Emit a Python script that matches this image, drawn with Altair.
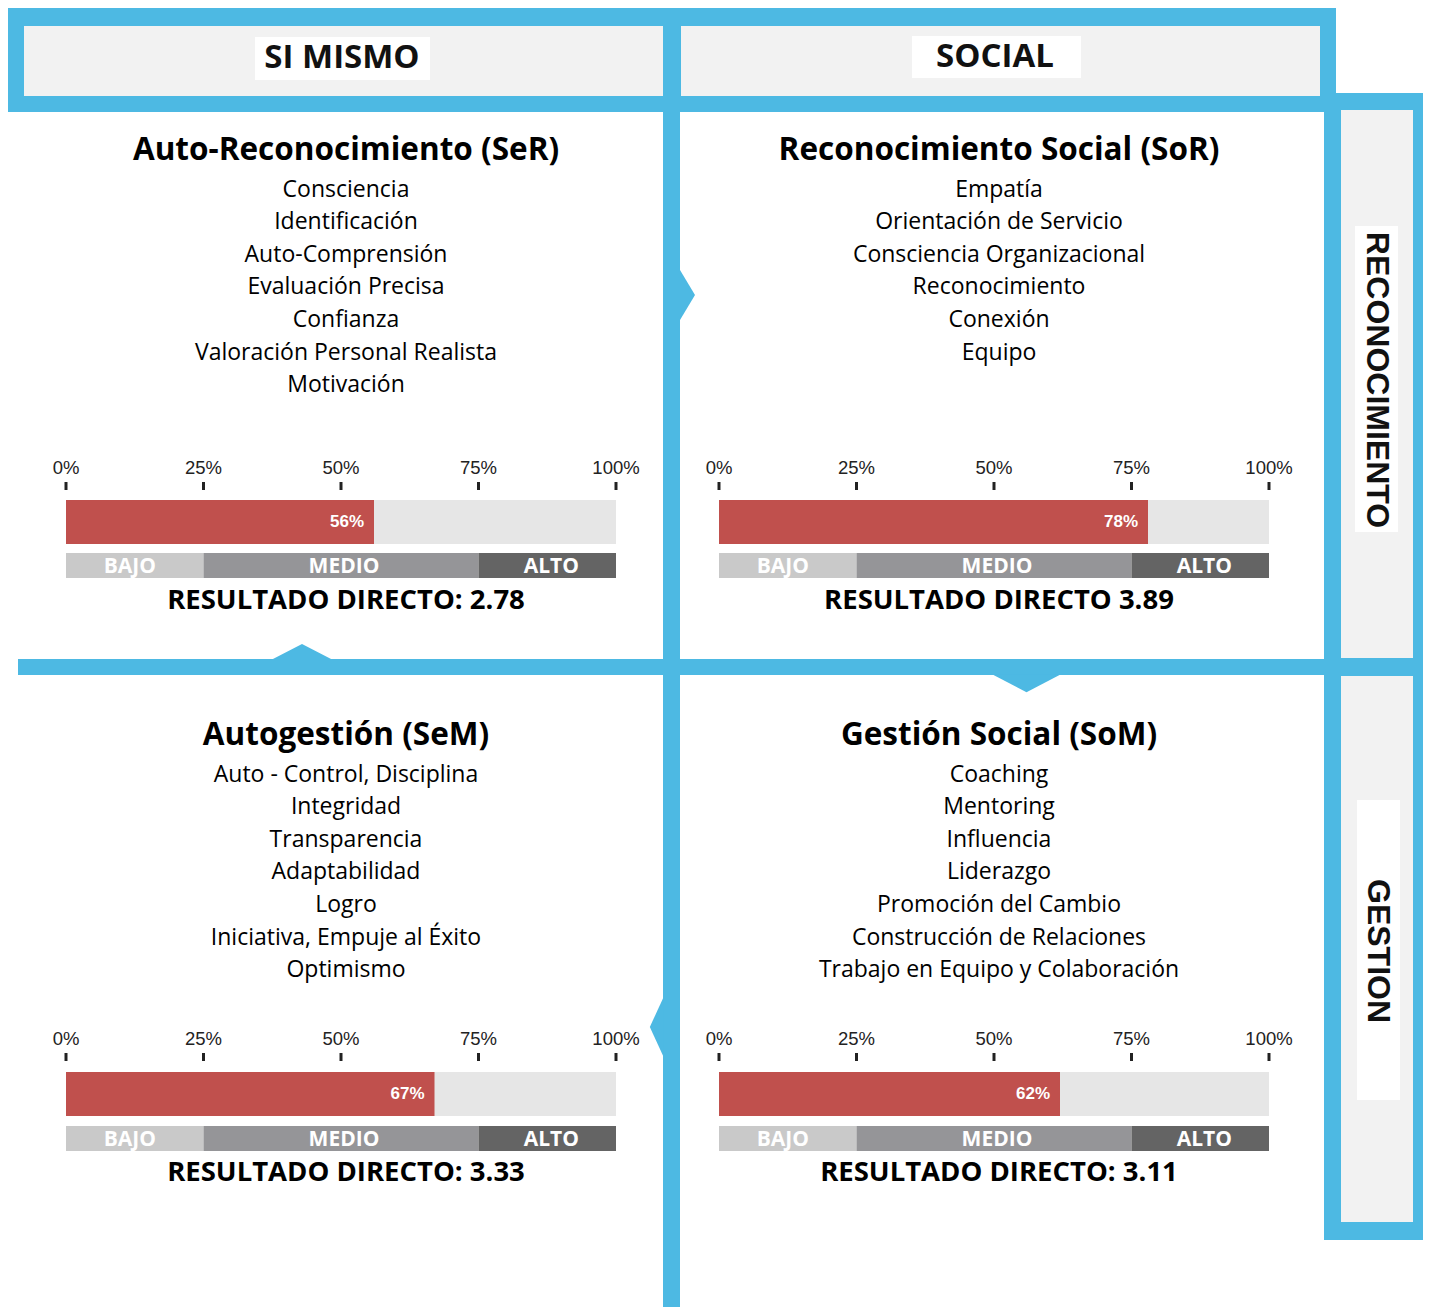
import altair as alt
import pandas as pd

# ---------------- data ----------------
COLUMN_HEADERS = ["SI MISMO", "SOCIAL"]
ROW_HEADERS = ["RECONOCIMIENTO", "GESTION"]
TITLES = [
    "Auto-Reconocimiento (SeR)",
    "Reconocimiento Social (SoR)",
    "Autogestión (SeM)",
    "Gestión Social (SoM)",
]
ITEMS = [
    ["Consciencia", "Identificación", "Auto-Comprensión", "Evaluación Precisa",
     "Confianza", "Valoración Personal Realista", "Motivación"],
    ["Empatía", "Orientación de Servicio", "Consciencia Organizacional",
     "Reconocimiento", "Conexión", "Equipo"],
    ["Auto - Control, Disciplina", "Integridad", "Transparencia", "Adaptabilidad",
     "Logro", "Iniciativa, Empuje al Éxito", "Optimismo"],
    ["Coaching", "Mentoring", "Influencia", "Liderazgo", "Promoción del Cambio",
     "Construcción de Relaciones", "Trabajo en Equipo y Colaboración"],
]
PERCENTS = [56, 78, 67, 62]
RESULTS = [
    "RESULTADO DIRECTO: 2.78",
    "RESULTADO DIRECTO 3.89",
    "RESULTADO DIRECTO: 3.33",
    "RESULTADO DIRECTO: 3.11",
]
TICKS = [0, 25, 50, 75, 100]
LEVELS = ["BAJO", "MEDIO", "ALTO"]
LEVEL_FROM = [0, 25, 75]
LEVEL_TO = [25, 75, 100]

# ---------------- layout / style ----------------
W, H = 1415, 1299
OX, OY = 8, 8
BLUE = "#4db9e3"
GREY = "#f2f2f2"
RED = "#c0504d"
TRACK = "#e6e6e6"
LEVEL_COLORS = ["#c9c9c9", "#959598", "#646464"]
LEVEL_DX = [-5, 3, 4]
SANS = "Open Sans"
ARIAL = "Liberation Sans"

PANEL_CX = [346, 999, 346, 999]
TITLE_Y = [151, 151, 736, 736]
ITEM_Y0 = [189.5, 189.5, 774.5, 774.5]
ITEM_STEP = 32.6
BAR_X0 = [66, 719, 66, 719]
BAR_W = 550
TICK_LABEL_Y = [468, 468, 1039, 1039]
TICK_TOP = [482, 482, 1053, 1053]
TICK_LEN = 8
BAR_Y = [500, 500, 1072, 1072]
BAR_H = 44
BAND_Y = [553, 553, 1126, 1126]
BAND_H = 25
RESULT_Y = [601, 601, 1173, 1173]

XS = alt.Scale(domain=[OX, OX + W], nice=False, zero=False)
YS = alt.Scale(domain=[OY, OY + H], reverse=True, nice=False, zero=False)


def lx(f):
    return alt.X(f, type="quantitative", scale=XS, axis=None)


def ly(f):
    return alt.Y(f, type="quantitative", scale=YS, axis=None)


def dy(v):
    return alt.Y(datum=v, scale=YS, axis=None)


# frame rectangles (drawn in order)
frame = pd.DataFrame(
    [
        (7, 1336, 8, 112, BLUE),
        (24, 663, 26, 96, GREY),
        (681, 1320, 26, 96, GREY),
        (255, 430, 37, 80, "#ffffff"),
        (912, 1081, 36, 78, "#ffffff"),
        (1324, 1431, 93, 1240, BLUE),
        (1341, 1413, 110, 658, GREY),
        (1341, 1413, 676, 1222, GREY),
        (1355, 1398, 226, 532, "#ffffff"),
        (1357, 1400, 800, 1100, "#ffffff"),
        (663, 680, 8, 1315, BLUE),
        (18, 1420, 659, 675, BLUE),
    ],
    columns=["x", "x2", "y", "y2", "c"],
)
frame["o"] = range(len(frame))
frame_layer = alt.Chart(frame).mark_rect().encode(
    x=lx("x"), x2="x2", y=ly("y"), y2="y2",
    color=alt.Color("c:N", scale=None), order=alt.Order("o:Q"),
)

# notches (triangles) on the blue lines: (x, y, size, path)
tri_specs = [
    (302, 652, 62 ** 2, "M-1,0.26L0,-0.26L1,0.26Z"),
    (1026.5, 683.5, 67 ** 2, "M-1,-0.26L0,0.26L1,-0.26Z"),
    (687.5, 295, 50 ** 2, "M-0.3,-1L0.3,0L-0.3,1Z"),
    (656.5, 1027, 58 ** 2, "M0.23,-1L-0.23,0L0.23,1Z"),
]
tri_layers = []
for tx, ty, ts, tp in tri_specs:
    tri_layers.append(
        alt.Chart(pd.DataFrame({"x": [tx], "y": [ty]}))
        .mark_point(shape=tp, size=ts, filled=True, color=BLUE, opacity=1, strokeWidth=0)
        .encode(x=lx("x"), y=ly("y"))
    )

# header texts
col_df = pd.DataFrame({"x": [342, 995], "y": [58, 57], "t": COLUMN_HEADERS})
col_layer = alt.Chart(col_df).mark_text(
    font=SANS, fontWeight="bold", fontSize=33, color="#111", baseline="middle", align="center"
).encode(x=lx("x"), y=ly("y"), text="t:N")

row_df = pd.DataFrame({"x": [1377, 1378], "y": [380, 951], "t": ROW_HEADERS})
row_layer = alt.Chart(row_df).mark_text(
    font=ARIAL, fontWeight="bold", fontSize=32, color="#111", baseline="middle",
    align="center", angle=90,
).encode(x=lx("x"), y=ly("y"), text="t:N")

title_df = pd.DataFrame({"x": PANEL_CX, "y": TITLE_Y, "t": TITLES})
title_layer = alt.Chart(title_df).mark_text(
    font=SANS, fontWeight="bold", fontSize=31.5, color="#000", baseline="middle", align="center"
).encode(x=lx("x"), y=ly("y"), text="t:N")

item_rows = []
for p, items in enumerate(ITEMS):
    for i, it in enumerate(items):
        item_rows.append({"x": PANEL_CX[p], "y": ITEM_Y0[p] + i * ITEM_STEP, "t": it})
item_layer = alt.Chart(pd.DataFrame(item_rows)).mark_text(
    font=SANS, fontSize=23, color="#000", baseline="middle", align="center"
).encode(x=lx("x"), y=ly("y"), text="t:N")

res_df = pd.DataFrame({"x": PANEL_CX, "y": RESULT_Y, "t": RESULTS})
res_layer = alt.Chart(res_df).mark_text(
    font=SANS, fontWeight="bold", fontSize=27.5, color="#000", baseline="middle", align="center"
).encode(x=lx("x"), y=ly("y"), text="t:N")


def panel(p):
    x0 = BAR_X0[p] - OX
    xs = alt.Scale(domain=[0, 100], range=[x0, x0 + BAR_W], nice=False, zero=False)

    def px(f):
        return alt.X(f, type="quantitative", scale=xs, axis=None)

    ticks = pd.DataFrame({"t": TICKS})
    tick_marks = alt.Chart(ticks).mark_rule(color="#222", strokeWidth=3).encode(
        x=px("t"), y=dy(TICK_TOP[p]), y2=alt.Y2(datum=TICK_TOP[p] + TICK_LEN),
    )
    tick_labels = alt.Chart(ticks).transform_calculate(lbl="datum.t + '%'").mark_text(
        font=ARIAL, fontSize=18.5, color="#222", align="center", baseline="middle",
    ).encode(x=px("t"), y=dy(TICK_LABEL_Y[p]), text="lbl:N")

    val = pd.DataFrame({"zero": [0], "full": [100], "v": [PERCENTS[p]]})
    by0, by1 = BAR_Y[p], BAR_Y[p] + BAR_H
    track = alt.Chart(val).mark_rect(color=TRACK).encode(
        x=px("zero"), x2="full:Q", y=dy(by0), y2=alt.Y2(datum=by1),
    )
    bar = alt.Chart(val).mark_rect(color=RED).encode(
        x=px("zero"), x2="v:Q", y=dy(by0), y2=alt.Y2(datum=by1),
    )
    lab = alt.Chart(val).transform_calculate(lbl="datum.v + '%'").mark_text(
        font=ARIAL, fontWeight="bold", fontSize=17, color="white",
        align="right", baseline="middle", dx=-10,
    ).encode(x=px("v"), y=dy((by0 + by1) / 2), text="lbl:N")

    lv = pd.DataFrame({"name": LEVELS, "a": LEVEL_FROM, "b": LEVEL_TO, "c": LEVEL_COLORS,
                       "d": LEVEL_DX})
    b0, b1 = BAND_Y[p], BAND_Y[p] + BAND_H
    bands = alt.Chart(lv).mark_rect().encode(
        x=px("a"), x2="b:Q", y=dy(b0), y2=alt.Y2(datum=b1),
        color=alt.Color("c:N", scale=None),
    )
    band_labs = []
    for k in range(len(LEVELS)):
        band_labs.append(
            alt.Chart(lv.iloc[[k]]).transform_calculate(m="(datum.a + datum.b) / 2").mark_text(
                font=SANS, fontWeight="bold", fontSize=21, color="white",
                align="center", baseline="middle", dx=LEVEL_DX[k],
            ).encode(x=px("m"), y=dy((b0 + b1) / 2 + 1), text="name:N")
        )
    return alt.layer(tick_marks, tick_labels, track, bar, lab, bands, *band_labs)


layers = [frame_layer] + tri_layers + [col_layer, row_layer, title_layer, item_layer, res_layer]
layers += [panel(p) for p in range(4)]

chart = (
    alt.layer(*layers)
    .resolve_scale(x="independent")
    .properties(width=W, height=H, padding=0, autosize=alt.AutoSizeParams(type="none"),
                background="white")
    .configure_view(stroke=None)
)

chart.save("out.html", embed_options={"renderer": "svg", "actions": False})
